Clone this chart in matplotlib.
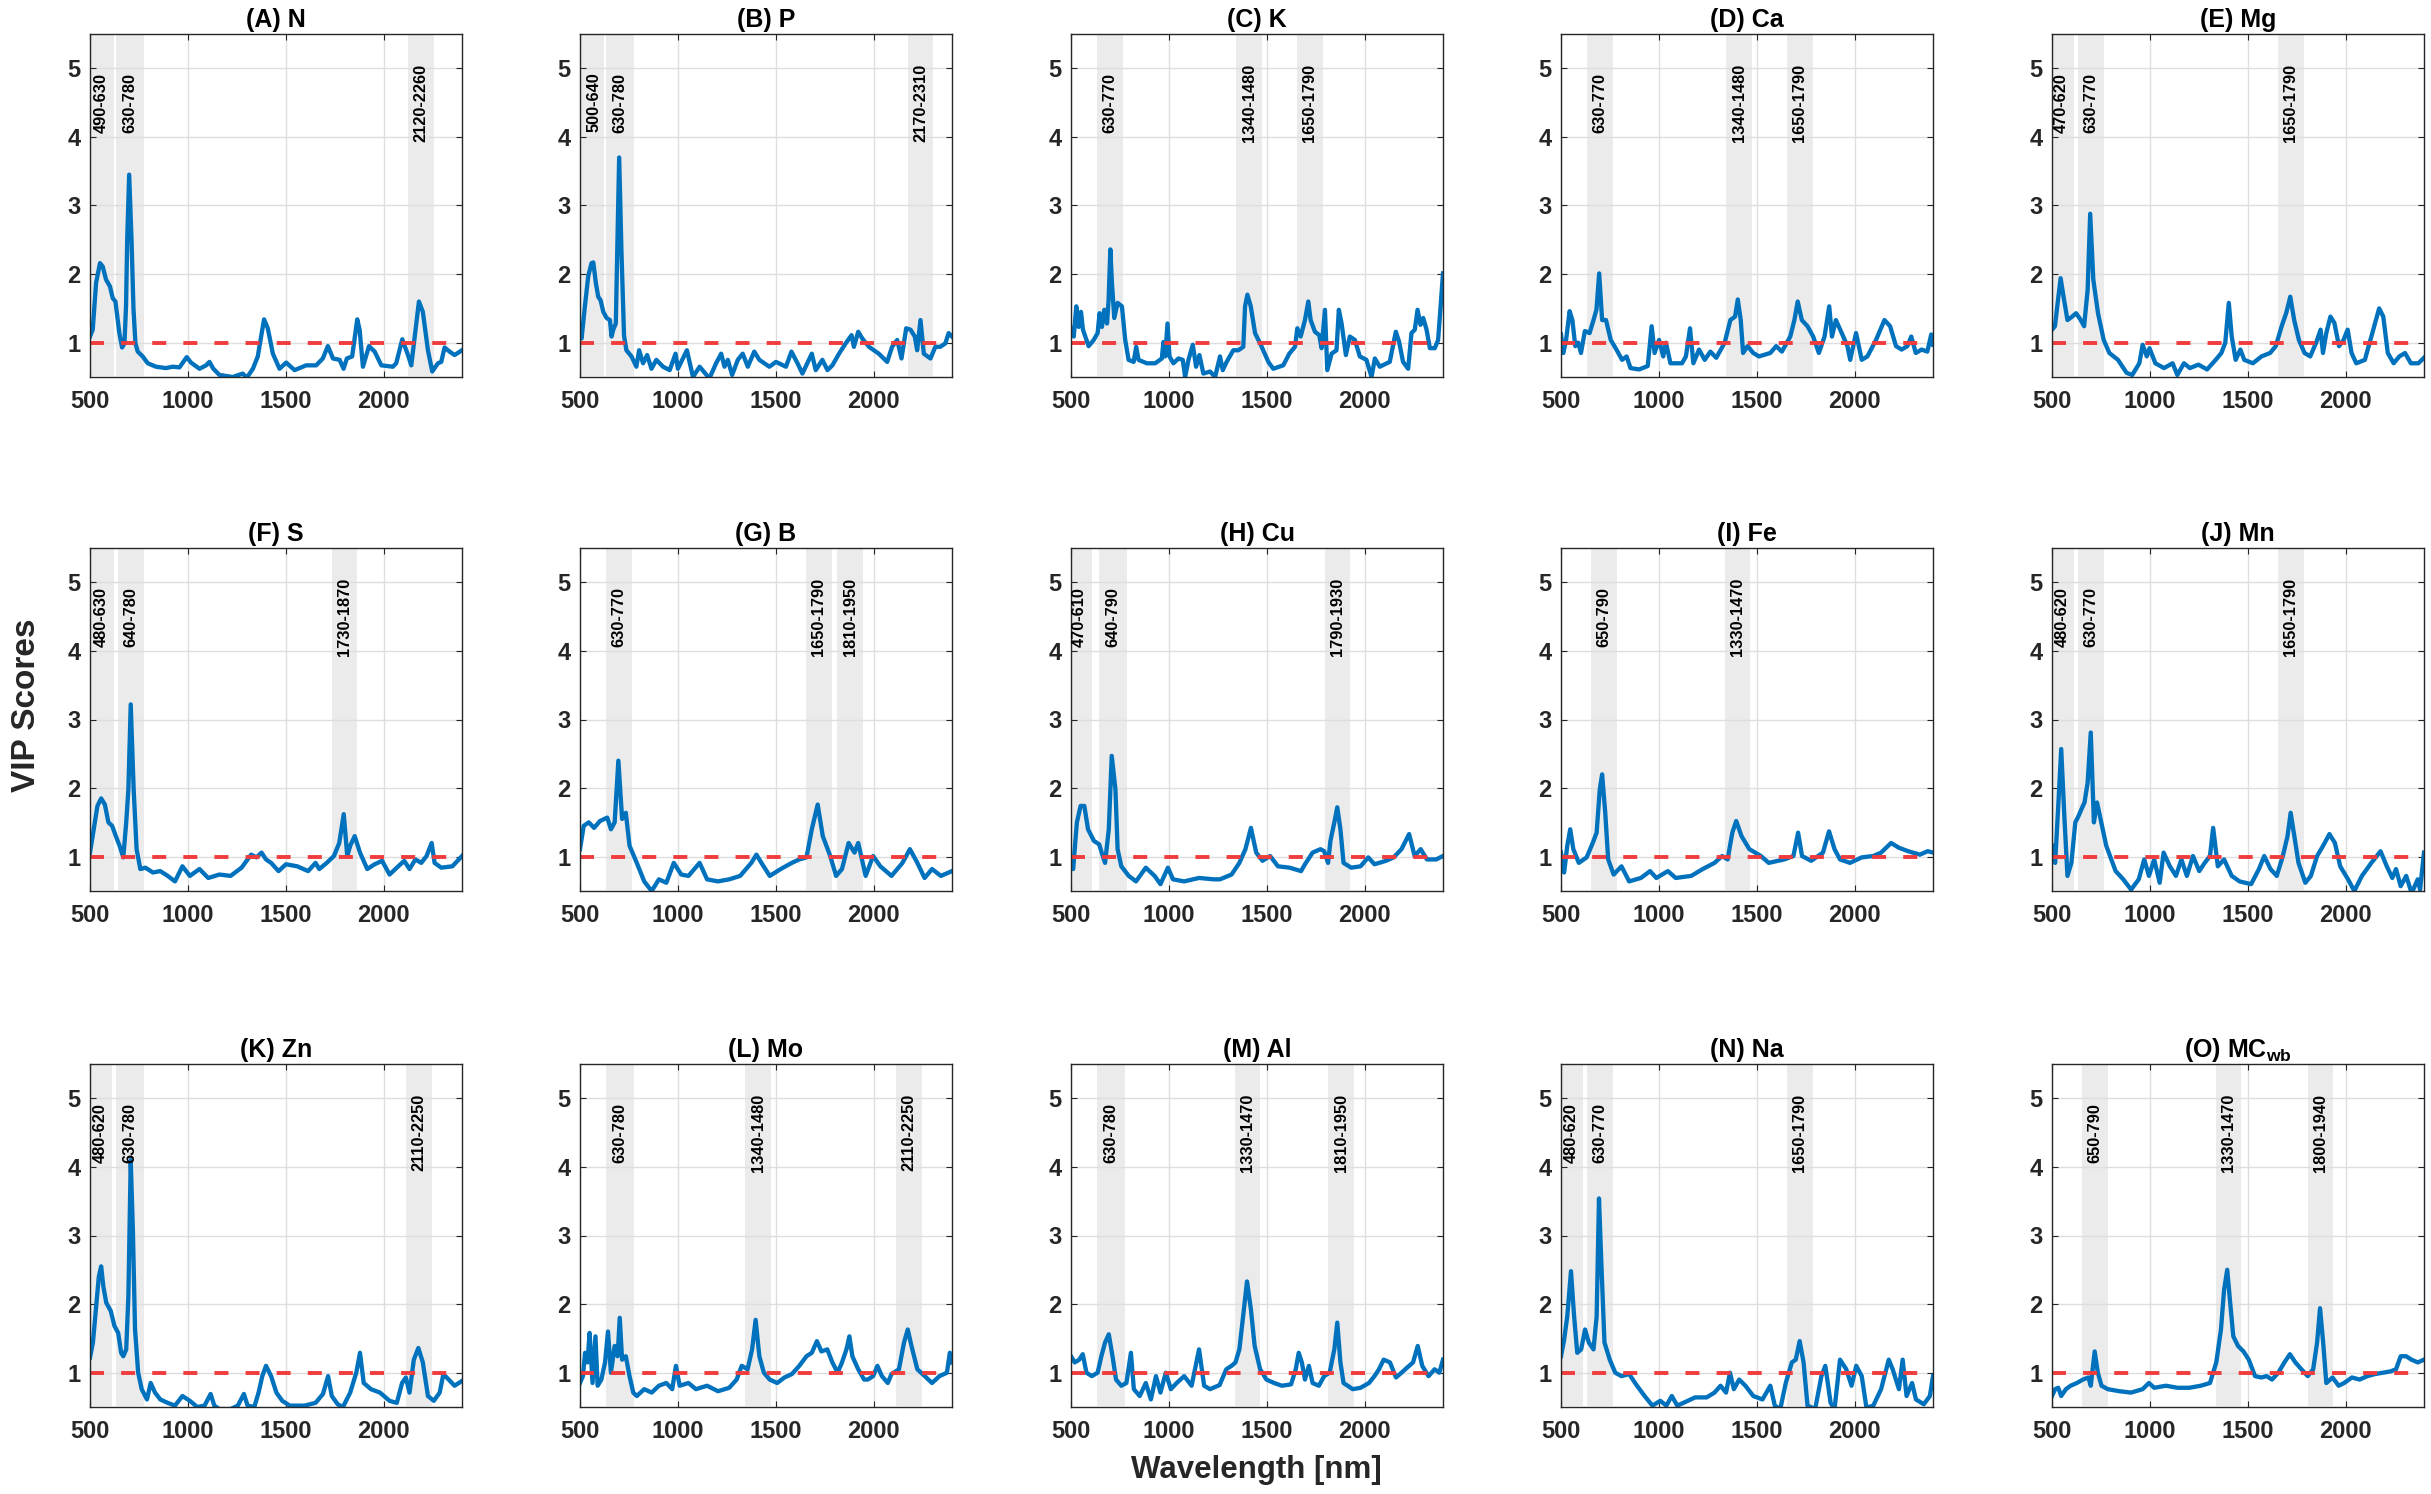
import matplotlib
matplotlib.use('Agg')
import matplotlib.pyplot as plt

plt.rcParams['font.family'] = ['Liberation Sans', 'DejaVu Sans']
plt.rcParams['font.weight'] = 'bold'
plt.rcParams['mathtext.fontset'] = 'custom'
plt.rcParams['mathtext.bf'] = 'Liberation Sans:bold'
plt.rcParams['mathtext.rm'] = 'Liberation Sans:bold'

# ---------------- data ----------------
titles = ['(A) N', '(B) P', '(C) K', '(D) Ca', '(E) Mg',
          '(F) S', '(G) B', '(H) Cu', '(I) Fe', '(J) Mn',
          '(K) Zn', '(L) Mo', '(M) Al', '(N) Na', r'(O) MC$_{\mathbf{wb}}$']

x_ticks = [500, 1000, 1500, 2000]
y_ticks = [1, 2, 3, 4, 5]
threshold = 1.0

bands_N = [(490, 630), (630, 780), (2120, 2260)]
bands_P = [(500, 640), (630, 780), (2170, 2310)]
bands_K = [(630, 770), (1340, 1480), (1650, 1790)]
bands_Ca = [(630, 770), (1340, 1480), (1650, 1790)]
bands_Mg = [(470, 620), (630, 770), (1650, 1790)]
bands_S = [(480, 630), (640, 780), (1730, 1870)]
bands_B = [(630, 770), (1650, 1790), (1810, 1950)]
bands_Cu = [(470, 610), (640, 790), (1790, 1930)]
bands_Fe = [(650, 790), (1330, 1470)]
bands_Mn = [(480, 620), (630, 770), (1650, 1790)]
bands_Zn = [(480, 620), (630, 780), (2110, 2250)]
bands_Mo = [(630, 780), (1340, 1480), (2110, 2250)]
bands_Al = [(630, 780), (1330, 1470), (1810, 1950)]
bands_Na = [(480, 620), (630, 770), (1650, 1790)]
bands_MC = [(650, 790), (1330, 1470), (1800, 1940)]

# (wavelength nm, VIP score)
vip_N = [(500,1.09),(514,1.19),(531,1.87),(551,2.16),(565,2.11),(582,1.92),(602,1.82),(616,1.65),
         (630,1.60),(650,1.14),(664,0.93),(676,0.99),(684,1.53),(690,2.5),(700,3.45),(712,2.5),
         (722,1.5),(732,0.99),(744,0.87),(769,0.80),(795,0.70),(837,0.65),(888,0.63),(923,0.65),
         (957,0.64),(994,0.79),(1016,0.71),(1059,0.62),(1093,0.67),(1110,0.72),(1130,0.62),
         (1161,0.53),(1229,0.50),(1280,0.55),(1301,0.49),(1332,0.62),(1357,0.80),(1374,1.09),
         (1389,1.34),(1408,1.21),(1434,0.84),(1468,0.62),(1502,0.71),(1545,0.60),(1604,0.67),
         (1655,0.67),(1689,0.77),(1715,0.95),(1741,0.77),(1775,0.75),(1795,0.62),(1812,0.77),
         (1839,0.80),(1865,1.34),(1877,1.19),(1894,0.65),(1925,0.95),(1954,0.87),(1988,0.67),
         (2047,0.65),(2064,0.70),(2095,1.05),(2124,0.82),(2141,0.67),(2180,1.60),(2200,1.45),
         (2226,0.89),(2248,0.58),(2277,0.70),(2294,0.72),(2311,0.93),(2337,0.87),(2362,0.82),
         (2400,0.89)]

vip_P = [(500,1.11),(508,1.06),(525,1.53),(542,1.97),(559,2.16),(568,2.17),(581,1.87),(593,1.67),
         (605,1.62),(619,1.45),(636,1.36),(653,1.33),(661,1.09),(670,1.19),(683,1.28),(690,2.3),
         (700,3.7),(712,2.3),(725,1.1),(737,0.89),(763,0.80),(788,0.65),(802,0.89),(822,0.70),
         (843,0.82),(865,0.62),(890,0.75),(924,0.65),(958,0.60),(988,0.84),(1000,0.62),(1046,0.89),
         (1077,0.50),(1111,0.65),(1161,0.48),(1195,0.70),(1221,0.84),(1238,0.65),(1255,0.75),
         (1277,0.53),(1306,0.75),(1331,0.84),(1357,0.65),(1390,0.87),(1416,0.75),(1467,0.65),
         (1501,0.72),(1552,0.65),(1580,0.87),(1611,0.70),(1636,0.55),(1684,0.84),(1704,0.60),
         (1738,0.75),(1764,0.60),(1789,0.67),(1823,0.84),(1857,0.99),(1887,1.11),(1899,0.94),
         (1921,1.16),(1942,1.06),(1976,0.94),(2026,0.84),(2069,0.72),(2094,0.94),(2120,1.04),
         (2142,0.77),(2166,1.21),(2188,1.19),(2210,1.09),(2222,0.89),(2239,1.33),(2256,0.84),
         (2290,0.77),(2315,0.94),(2340,0.94),(2366,0.99),(2383,1.14),(2400,1.09)]

vip_K = [(500,1.21),(514,1.09),(527,1.53),(539,1.23),(551,1.45),(561,1.19),(573,1.09),(590,0.95),
         (616,1.04),(636,1.14),(646,1.43),(658,1.23),(670,1.48),(684,1.28),(692,1.62),(701,2.36),
         (709,1.87),(721,1.36),(738,1.58),(760,1.53),(777,1.04),(794,0.75),(820,0.72),(833,0.94),
         (845,0.75),(887,0.70),(930,0.70),(964,0.77),(972,1.01),(981,0.80),(993,1.28),(1003,0.80),
         (1023,0.70),(1049,0.77),(1071,0.75),(1083,0.50),(1100,0.75),(1122,0.97),(1139,0.65),
         (1156,0.82),(1176,0.55),(1210,0.58),(1236,0.50),(1261,0.80),(1275,0.60),(1295,0.72),
         (1329,0.89),(1355,0.89),(1380,0.94),(1389,1.53),(1401,1.70),(1418,1.53),(1440,1.14),
         (1474,0.94),(1508,0.72),(1533,0.62),(1584,0.67),(1615,0.84),(1644,0.94),(1656,1.21),
         (1673,1.09),(1695,1.33),(1712,1.60),(1724,1.33),(1746,1.16),(1768,1.11),(1780,0.92),
         (1797,1.48),(1809,0.60),(1831,0.84),(1856,0.89),(1868,1.48),(1882,1.28),(1904,0.82),
         (1924,1.09),(1950,1.04),(1975,0.80),(2009,0.75),(2035,0.50),(2052,0.77),(2077,0.65),
         (2128,0.72),(2159,1.16),(2176,1.01),(2196,0.72),(2222,0.62),(2239,1.14),(2256,1.19),
         (2270,1.48),(2285,1.26),(2299,1.36),(2316,1.19),(2333,0.92),(2358,0.92),(2375,1.04),
         (2387,1.50),(2400,2.01)]

vip_Ca = [(500,1.12),(512,0.85),(526,1.04),(544,1.46),(558,1.33),(573,0.95),(588,1.00),(602,0.85),
          (622,1.17),(646,1.14),(666,1.33),(681,1.48),(695,2.01),(710,1.33),(730,1.33),(754,1.04),
          (783,0.90),(812,0.75),(835,0.80),(855,0.63),(899,0.61),(943,0.66),(963,1.24),(978,0.85),
          (1001,1.04),(1022,0.80),(1036,1.00),(1059,0.70),(1118,0.70),(1138,0.80),(1159,1.21),
          (1176,0.70),(1205,0.90),(1234,0.75),(1263,0.87),(1293,0.78),(1336,1.00),(1365,1.33),
          (1389,1.38),(1403,1.63),(1418,1.33),(1430,0.85),(1453,0.95),(1482,0.85),(1511,0.80),
          (1569,0.85),(1599,0.95),(1628,0.87),(1671,1.09),(1692,1.33),(1709,1.60),(1730,1.33),
          (1759,1.24),(1788,1.09),(1817,0.85),(1846,1.09),(1870,1.53),(1884,1.09),(1904,1.33),
          (1934,1.14),(1963,0.95),(1977,0.75),(2007,1.14),(2036,0.75),(2065,0.80),(2109,1.04),
          (2152,1.33),(2181,1.24),(2211,0.95),(2240,0.90),(2269,0.95),(2289,1.09),(2312,0.85),
          (2342,0.90),(2371,0.87),(2391,1.12),(2400,0.97)]

vip_Mg = [(500,1.19),(515,1.24),(529,1.58),(544,1.94),(559,1.67),(579,1.33),(603,1.38),(623,1.43),
          (647,1.33),(664,1.24),(682,1.77),(695,2.88),(711,1.92),(735,1.43),(764,1.04),(793,0.85),
          (837,0.75),(881,0.56),(910,0.53),(946,0.70),(963,0.97),(984,0.80),(998,0.92),(1028,0.70),
          (1072,0.63),(1116,0.70),(1140,0.53),(1174,0.70),(1204,0.63),(1248,0.68),(1292,0.61),
          (1336,0.75),(1365,0.85),(1385,1.00),(1403,1.58),(1418,1.09),(1438,0.75),(1462,0.90),
          (1482,0.75),(1526,0.70),(1570,0.80),(1614,0.85),(1643,0.95),(1673,1.24),(1696,1.43),
          (1717,1.67),(1737,1.33),(1761,1.04),(1790,0.85),(1819,0.80),(1849,1.00),(1872,1.19),
          (1884,0.85),(1901,1.14),(1922,1.38),(1942,1.29),(1966,0.95),(1989,1.04),(2010,1.19),
          (2030,0.85),(2054,0.70),(2098,0.75),(2136,1.14),(2171,1.50),(2192,1.38),(2215,0.85),
          (2245,0.70),(2274,0.80),(2303,0.85),(2333,0.70),(2371,0.70),(2400,0.78)]

vip_S = [(500,1.06),(519,1.40),(538,1.74),(557,1.85),(576,1.76),(594,1.50),(613,1.45),(632,1.30),
         (651,1.16),(670,0.99),(685,1.50),(696,1.98),(708,3.22),(723,1.98),(738,1.11),(757,0.82),
         (783,0.84),(821,0.77),(859,0.79),(897,0.72),(934,0.64),(972,0.86),(1010,0.72),(1059,0.82),
         (1104,0.69),(1161,0.74),(1218,0.72),(1274,0.84),(1323,1.03),(1350,0.99),(1376,1.06),
         (1399,0.96),(1425,0.91),(1463,0.79),(1501,0.89),(1558,0.86),(1614,0.79),(1652,0.91),
         (1671,0.82),(1709,0.91),(1746,1.01),(1773,1.20),(1796,1.62),(1814,1.01),(1829,1.16),
         (1852,1.30),(1879,1.06),(1916,0.82),(1954,0.89),(1992,0.94),(2030,0.74),(2067,0.84),
         (2105,0.94),(2132,0.82),(2162,0.96),(2192,0.91),(2219,1.01),(2245,1.20),(2260,0.91),
         (2294,0.84),(2351,0.86),(2400,1.01)]

vip_B = [(500,1.11),(519,1.45),(545,1.50),(572,1.42),(602,1.52),(639,1.57),(658,1.40),(677,1.50),
         (696,2.40),(715,1.55),(734,1.64),(753,1.16),(790,0.91),(828,0.64),(866,0.50),(903,0.67),
         (941,0.62),(979,0.91),(1017,0.74),(1054,0.72),(1111,0.91),(1149,0.67),(1205,0.64),
         (1262,0.67),(1318,0.72),(1375,0.91),(1401,1.03),(1431,0.89),(1469,0.72),(1525,0.82),
         (1582,0.91),(1620,0.96),(1657,0.99),(1684,1.40),(1714,1.76),(1740,1.30),(1778,1.01),
         (1808,0.72),(1838,0.82),(1872,1.20),(1902,1.06),(1921,1.20),(1959,0.72),(1997,1.01),
         (2034,0.86),(2091,0.72),(2147,0.91),(2185,1.11),(2223,0.91),(2260,0.69),(2298,0.82),
         (2343,0.72),(2400,0.79)]

vip_Cu = [(500,0.96),(511,0.82),(530,1.50),(549,1.74),(568,1.74),(587,1.40),(617,1.23),(644,1.18),
          (662,1.01),(674,0.91),(693,1.40),(708,2.47),(727,1.98),(738,1.11),(757,0.86),(795,0.72),
          (832,0.64),(882,0.84),(927,0.72),(957,0.60),(995,0.84),(1021,0.67),(1078,0.64),(1154,0.69),
          (1229,0.67),(1261,0.67),(1320,0.74),(1360,0.91),(1391,1.11),(1419,1.42),(1446,1.06),
          (1478,0.94),(1517,1.01),(1557,0.86),(1616,0.84),(1675,0.79),(1695,0.89),(1734,1.06),
          (1774,1.11),(1793,1.08),(1813,0.91),(1825,1.23),(1845,1.50),(1860,1.72),(1876,1.40),
          (1892,0.91),(1931,0.84),(1979,0.86),(2018,0.99),(2050,0.89),(2109,0.94),(2148,0.99),
          (2188,1.11),(2227,1.33),(2255,1.01),(2286,1.11),(2318,0.96),(2365,0.96),(2400,1.01)]

vip_Fe = [(500,1.06),(516,0.77),(532,1.16),(547,1.40),(563,1.11),(591,0.91),(631,0.99),(662,1.20),
          (682,1.35),(698,1.98),(710,2.20),(726,1.64),(741,0.96),(769,0.74),(809,0.86),(848,0.64),
          (908,0.69),(955,0.79),(987,0.69),(1046,0.79),(1086,0.69),(1165,0.72),(1224,0.82),
          (1284,0.91),(1323,1.01),(1351,0.96),(1375,1.35),(1395,1.52),(1422,1.30),(1462,1.11),
          (1521,1.01),(1561,0.91),(1640,0.96),(1687,1.01),(1711,1.35),(1731,1.01),(1778,0.94),
          (1838,1.06),(1869,1.37),(1897,1.11),(1925,0.96),(1976,0.91),(2036,0.99),(2095,1.01),
          (2135,1.06),(2186,1.20),(2226,1.13),(2273,1.08),(2333,1.03),(2373,1.08),(2400,1.06)]

vip_Mn = [(500,1.16),(516,0.91),(532,1.74),(547,2.57),(563,1.59),(579,0.72),(599,0.91),(619,1.50),
          (635,1.59),(650,1.69),(666,1.79),(682,2.08),(698,2.81),(714,1.50),(730,1.79),(745,1.59),
          (777,1.16),(825,0.79),(864,0.67),(904,0.52),(943,0.67),(971,0.96),(995,0.72),(1022,0.96),
          (1050,0.62),(1070,1.06),(1102,0.86),(1133,0.72),(1161,0.96),(1189,0.72),(1220,1.01),
          (1252,0.79),(1280,0.91),(1307,1.01),(1323,1.42),(1347,0.86),(1379,0.96),(1418,0.72),
          (1458,0.64),(1517,0.60),(1557,0.82),(1584,1.01),(1616,0.82),(1648,0.72),(1679,1.01),
          (1703,1.30),(1719,1.64),(1735,1.35),(1759,0.91),(1794,0.62),(1822,0.72),(1854,1.01),
          (1885,1.16),(1917,1.33),(1945,1.20),(1972,0.86),(2012,0.67),(2044,0.50),(2083,0.72),
          (2131,0.91),(2178,1.08),(2210,0.86),(2238,0.69),(2257,0.82),(2281,0.57),(2309,0.72),
          (2337,0.47),(2368,0.67),(2380,0.52),(2400,1.06)]

vip_Zn = [(500,1.22),(515,1.44),(530,1.92),(545,2.40),(557,2.55),(568,2.26),(583,2.02),(606,1.90),
          (625,1.68),(644,1.58),(659,1.29),(670,1.24),(685,1.34),(696,2.11),(708,4.10),(719,3.08),
          (730,1.63),(746,1.00),(764,0.76),(791,0.61),(810,0.85),(832,0.71),(859,0.61),(897,0.56),
          (934,0.52),(972,0.66),(1010,0.59),(1048,0.50),(1085,0.52),(1116,0.69),(1135,0.52),
          (1161,0.47),(1218,0.47),(1255,0.52),(1286,0.69),(1305,0.52),(1339,0.50),(1361,0.71),
          (1380,0.95),(1399,1.10),(1425,0.95),(1452,0.71),(1482,0.59),(1520,0.52),(1595,0.52),
          (1652,0.56),(1690,0.69),(1716,0.95),(1735,0.66),(1765,0.54),(1792,0.50),(1829,0.71),
          (1860,1.00),(1879,1.29),(1898,0.85),(1935,0.76),(1981,0.71),(2030,0.59),(2067,0.56),
          (2094,0.85),(2113,0.93),(2132,0.71),(2154,1.19),(2177,1.36),(2200,1.15),(2226,0.66),
          (2256,0.59),(2286,0.71),(2305,0.98),(2332,0.90),(2362,0.81),(2400,0.88)]

vip_Mo = [(500,0.85),(515,0.95),(526,1.29),(538,1.15),(549,1.58),(564,0.85),(579,1.53),(590,0.81),
          (609,0.90),(628,1.15),(643,1.60),(658,1.00),(677,1.39),(692,1.24),(703,1.80),(715,1.19),
          (734,1.24),(753,0.95),(772,0.71),(790,0.66),(828,0.76),(866,0.71),(903,0.81),(941,0.85),
          (971,0.76),(990,1.10),(1009,0.81),(1054,0.85),(1092,0.76),(1149,0.81),(1205,0.73),
          (1262,0.78),(1300,0.90),(1326,1.10),(1356,1.05),(1379,1.34),(1397,1.77),(1416,1.24),
          (1439,1.00),(1469,0.90),(1507,0.85),(1544,0.93),(1582,0.98),(1620,1.10),(1657,1.24),
          (1684,1.29),(1710,1.46),(1733,1.31),(1763,1.34),(1789,1.15),(1816,1.00),(1838,1.15),
          (1861,1.34),(1876,1.53),(1891,1.24),(1921,1.05),(1951,0.90),(1970,0.90),(1997,0.95),
          (2019,1.10),(2042,0.95),(2072,0.85),(2091,0.98),(2129,1.05),(2155,1.44),(2174,1.63),
          (2193,1.39),(2223,1.05),(2261,0.95),(2298,0.85),(2336,0.95),(2374,1.00),(2389,1.29),
          (2400,1.15)]

vip_Al = [(500,1.24),(519,1.15),(542,1.19),(560,1.27),(579,1.00),(606,0.95),(636,1.00),(655,1.24),
          (674,1.44),(693,1.56),(712,1.24),(730,0.90),(757,0.81),(783,0.85),(806,1.29),(821,0.76),
          (851,0.66),(882,0.85),(908,0.61),(934,0.95),(957,0.71),(984,1.00),(1010,0.76),(1040,0.85),
          (1078,0.95),(1116,0.81),(1154,1.34),(1180,0.81),(1210,0.76),(1259,0.82),(1293,1.05),
          (1320,1.10),(1340,1.15),(1360,1.34),(1379,1.82),(1399,2.33),(1419,1.92),(1438,1.39),
          (1466,1.05),(1498,0.90),(1537,0.85),(1577,0.81),(1624,0.83),(1648,1.05),(1663,1.29),
          (1679,1.15),(1695,0.90),(1715,1.10),(1734,0.85),(1766,0.81),(1793,0.95),(1821,1.00),
          (1845,1.34),(1860,1.73),(1876,1.15),(1892,0.85),(1939,0.76),(1979,0.78),(2022,0.85),
          (2050,0.95),(2073,1.05),(2097,1.19),(2129,1.15),(2160,0.93),(2188,1.00),(2215,1.07),
          (2247,1.15),(2271,1.39),(2294,1.10),(2326,0.95),(2357,1.05),(2381,1.00),(2400,1.19)]

vip_Na = [(500,1.24),(516,1.48),(532,1.82),(551,2.48),(567,1.82),(583,1.29),(603,1.34),(623,1.63),
          (642,1.44),(666,1.34),(682,1.82),(694,3.54),(706,2.60),(722,1.44),(749,1.19),(777,1.00),
          (809,0.95),(848,0.98),(888,0.81),(927,0.66),(967,0.52),(1007,0.59),(1038,0.52),(1066,0.66),
          (1094,0.52),(1125,0.56),(1185,0.64),(1244,0.64),(1284,0.71),(1315,0.81),(1343,0.71),
          (1363,1.00),(1383,0.76),(1410,0.90),(1442,0.81),(1482,0.66),(1529,0.61),(1569,0.81),
          (1592,0.52),(1620,0.47),(1648,0.85),(1679,1.15),(1699,1.19),(1719,1.46),(1739,1.15),
          (1759,0.52),(1798,0.47),(1830,0.95),(1850,1.10),(1877,0.56),(1897,0.47),(1925,1.19),
          (1957,1.05),(1984,0.81),(2008,1.10),(2036,0.95),(2060,0.49),(2095,0.52),(2135,0.76),
          (2174,1.19),(2194,1.05),(2226,0.76),(2245,1.19),(2265,0.66),(2293,0.85),(2313,0.61),
          (2353,0.54),(2384,0.66),(2400,0.95)]

vip_MC = [(500,0.66),(516,0.76),(532,0.78),(547,0.66),(571,0.76),(595,0.81),(627,0.85),(658,0.90),
          (686,0.93),(698,0.81),(718,1.31),(734,1.00),(753,0.81),(785,0.76),(844,0.73),(904,0.71),
          (963,0.76),(995,0.85),(1022,0.78),(1082,0.81),(1141,0.78),(1201,0.78),(1260,0.81),
          (1307,0.85),(1339,1.15),(1363,1.63),(1379,2.21),(1395,2.50),(1410,2.02),(1426,1.53),
          (1450,1.39),(1478,1.31),(1505,1.19),(1537,0.95),(1569,0.93),(1596,0.95),(1624,0.90),
          (1656,1.00),(1687,1.15),(1715,1.27),(1743,1.15),(1774,1.05),(1806,0.95),(1834,1.05),
          (1854,1.44),(1869,1.94),(1885,1.44),(1901,0.85),(1933,0.93),(1964,0.81),(1992,0.85),
          (2032,0.93),(2071,0.90),(2111,0.95),(2150,0.98),(2190,1.00),(2230,1.02),(2257,1.05),
          (2281,1.24),(2309,1.24),(2336,1.19),(2368,1.15),(2400,1.19)]

series = [vip_N, vip_P, vip_K, vip_Ca, vip_Mg,
          vip_S, vip_B, vip_Cu, vip_Fe, vip_Mn,
          vip_Zn, vip_Mo, vip_Al, vip_Na, vip_MC]
bands = [bands_N, bands_P, bands_K, bands_Ca, bands_Mg,
         bands_S, bands_B, bands_Cu, bands_Fe, bands_Mn,
         bands_Zn, bands_Mo, bands_Al, bands_Na, bands_MC]

# ---------------- layout ----------------
W, H = 2431, 1494
fig = plt.figure(figsize=(W / 100, H / 100), dpi=100)
lefts = [90, 580, 1071, 1561, 2052]
tops = [34, 548, 1064]
aw, ah = 372, 343

line_color = '#0072BD'
dark = '#262626'

for i in range(15):
    r, c = divmod(i, 5)
    ax = fig.add_axes([lefts[c] / W, 1 - (tops[r] + ah) / H, aw / W, ah / H])
    ax.set_xlim(500, 2400)
    ax.set_ylim(0.5, 5.5)
    for lo, hi in bands[i]:
        ax.axvspan(lo, hi, facecolor='#ebebeb', edgecolor='white', linewidth=1.5, zorder=0.2)
        ax.text((lo + hi) / 2, 4.5, f'{lo}-{hi}', rotation=90, ha='center', va='center',
                fontsize=11.8, fontweight='bold', color='black', zorder=3)
    wl = [p[0] for p in series[i]]
    vv = [p[1] for p in series[i]]
    ax.plot(wl, vv, color=line_color, lw=3.1, solid_joinstyle='round', zorder=2)
    ax.axhline(threshold, color='#f03c3c', lw=2.8, dashes=(3.6, 4.4), zorder=2.5)
    ax.set_xticks(x_ticks)
    ax.set_yticks(y_ticks)
    ax.set_axisbelow(True)
    ax.grid(True, color='#dedede', lw=1.0)
    ax.tick_params(direction='in', length=4, width=0.8, top=True, right=True,
                   labelsize=17, colors=dark, pad=7)
    ax.tick_params(axis='x', pad=9)
    for lab in ax.get_xticklabels() + ax.get_yticklabels():
        lab.set_fontweight('bold')
    for sp in ax.spines.values():
        sp.set_color(dark)
        sp.set_linewidth(1.0)
    ax.set_title(titles[i], fontsize=18, fontweight='bold', pad=5, color='black')

fig.text(0.011, 0.528, 'VIP Scores', rotation=90, ha='center', va='center',
         fontsize=24, fontweight='bold', color=dark)
fig.text(0.517, 0.016, 'Wavelength [nm]', ha='center', va='center',
         fontsize=22.5, fontweight='bold', color=dark)

fig.savefig('out.png', dpi=100)
